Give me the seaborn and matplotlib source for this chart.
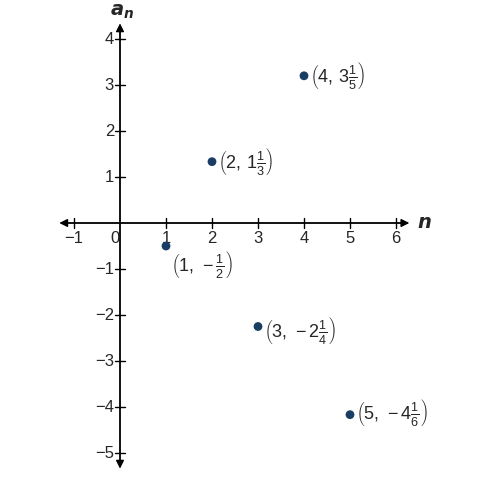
import matplotlib
matplotlib.use("Agg")
import matplotlib.pyplot as plt
import seaborn as sns
import pandas as pd

n = [1, 2, 3, 4, 5]
a = [-1/2, 4/3, -9/4, 16/5, -25/6]
labels = [r"$\left(1,\,-\frac{1}{2}\right)$", r"$\left(2,\,1\frac{1}{3}\right)$",
          r"$\left(3,\,-2\frac{1}{4}\right)$", r"$\left(4,\,3\frac{1}{5}\right)$",
          r"$\left(5,\,-4\frac{1}{6}\right)$"]
xticks = [-1, 1, 2, 3, 4, 5, 6]
yticks = [-5, -4, -3, -2, -1, 1, 2, 3, 4]

sns.set_style("white")
plt.rcParams['font.family'] = ['Liberation Sans', 'DejaVu Sans']
plt.rcParams['mathtext.fontset'] = 'custom'
plt.rcParams['mathtext.rm'] = 'Liberation Sans'
plt.rcParams['mathtext.it'] = 'Liberation Sans:italic'

fig = plt.figure(figsize=(4.87, 4.82), dpi=100)
ax = fig.add_axes([0, 0, 1, 1])
ax.set_xlim(-120/46, 367/46)
ax.set_ylim(-259/46, 223/46)
ax.axis('off')

ax.annotate("", xy=(-1.38, 0), xytext=(6.3, 0), arrowprops=dict(arrowstyle="-|>", color="black", lw=1, mutation_scale=12))
ax.annotate("", xy=(6.35, 0), xytext=(-1.3, 0), arrowprops=dict(arrowstyle="-|>", color="black", lw=1, mutation_scale=12))
ax.annotate("", xy=(0, 4.4), xytext=(0, -5.3), arrowprops=dict(arrowstyle="-|>", color="black", lw=1, mutation_scale=12))
ax.annotate("", xy=(0, -5.4), xytext=(0, 4.3), arrowprops=dict(arrowstyle="-|>", color="black", lw=1, mutation_scale=12))

for t in xticks:
    ax.plot([t, t], [-0.1, 0.1], color="black", lw=1)
    ax.text(t, -0.17, str(t).replace('-', '\u2212'), ha='center', va='top', fontsize=12)
ax.text(-0.1, -0.17, "0", ha='center', va='top', fontsize=12)
for t in yticks:
    ax.plot([-0.1, 0.1], [t, t], color="black", lw=1)
    ax.text(-0.13, t, str(t).replace('-', '\u2212'), ha='right', va='center', fontsize=12)

ax.text(6.45, 0, r"$\mathbfit{n}$", ha='left', va='center', fontsize=14)
ax.text(0.05, 4.58, r"$\mathbfit{a_n}$", ha='center', va='center', fontsize=14)

df = pd.DataFrame({"n": n, "a": a})
sns.scatterplot(data=df, x="n", y="a", ax=ax, color="#1a3d63", s=40, edgecolor="none", zorder=5)

offsets = [(0.1, -0.4), (0.12, 0), (0.12, -0.08), (0.12, 0), (0.12, 0.05)]
for xi, yi, lab, (dx, dy) in zip(n, a, labels, offsets):
    ax.text(xi + dx, yi + dy, lab, ha='left', va='center', fontsize=13)

fig.savefig("out.png", dpi=100)
